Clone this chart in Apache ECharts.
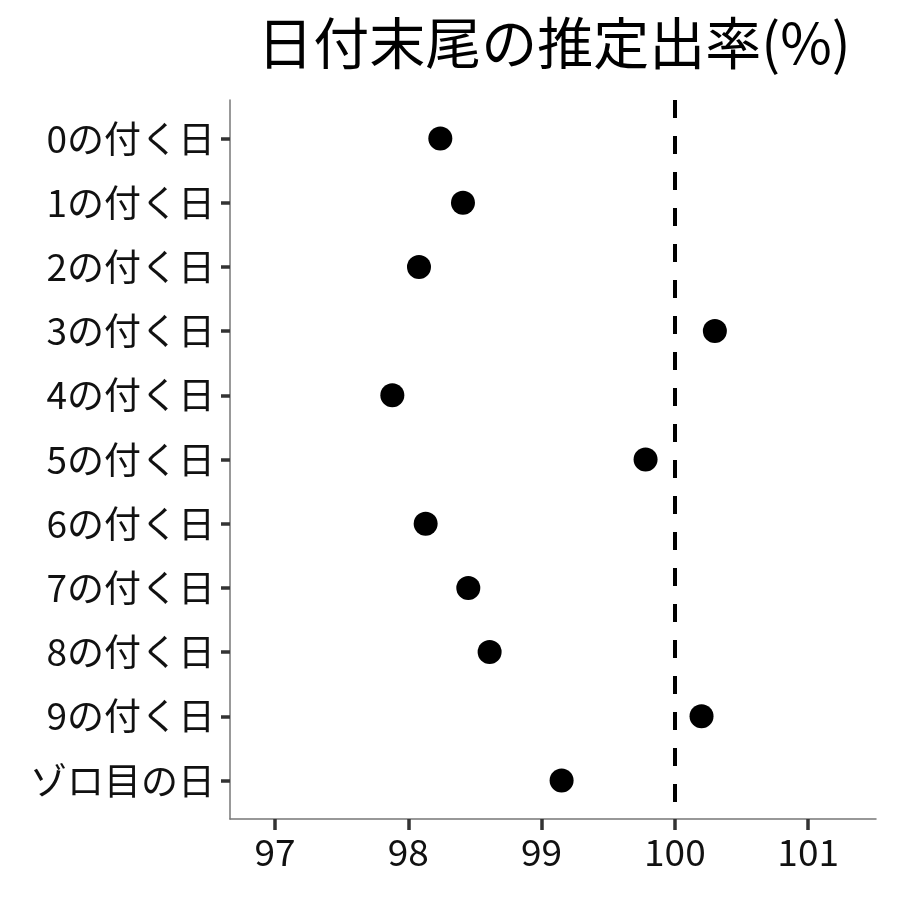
<!DOCTYPE html>
<html>
<head>
<meta charset="utf-8">
<script src="https://cdn.jsdelivr.net/npm/echarts@6/dist/echarts.min.js"></script>
<style>
  html, body { margin: 0; padding: 0; background: #fff; }
  #chart { width: 900px; height: 900px; }
</style>
</head>
<body>
<div id="chart"></div>
<script>
'use strict'
// カテゴリ (上から順)
const categories = ['0の付く日', '1の付く日', '2の付く日', '3の付く日', '4の付く日',
  '5の付く日', '6の付く日', '7の付く日', '8の付く日', '9の付く日', 'ゾロ目の日'];
// 推定出率(%)
const rates = [98.24, 98.41, 98.08, 100.30, 97.88, 99.78, 98.13, 98.45, 98.61, 100.20, 99.15];
const xTicks = [97, 98, 99, 100, 101];
const refLine = 100;

const font = '"Noto Sans CJK JP", "Noto Sans", sans-serif';

let option = {
  animation: false,
  title: {
    text: '日付末尾の推定出率(%)',
    left: 549,
    top: 10,
    textAlign: 'center',
    textStyle: {
      fontFamily: font,
      fontSize: 56,
      fontWeight: 'normal',
      color: '#000'
    }
  },
  grid: {
    left: 230,
    right: 24,
    top: 100,
    bottom: 81,
    containLabel: false
  },
  xAxis: {
    type: 'value',
    min: 96.662,
    max: 101.509,
    splitLine: { show: false },
    axisLine: { show: true, onZero: false, lineStyle: { color: '#777', width: 1.5 } },
    axisTick: { show: true, length: 11, customValues: xTicks, lineStyle: { color: '#333', width: 3.5 } },
    axisLabel: {
      customValues: xTicks,
      margin: 14,
      color: '#111',
      fontFamily: font,
      fontSize: 37
    }
  },
  yAxis: {
    type: 'value',
    inverse: true,
    min: -0.6,
    max: categories.length - 0.4,
    splitLine: { show: false },
    axisLine: { show: true, onZero: false, lineStyle: { color: '#777', width: 1.5 } },
    axisTick: { show: true, length: 9, customValues: categories.map((c, i) => i), lineStyle: { color: '#333', width: 3.5 } },
    axisLabel: {
      customValues: categories.map((c, i) => i),
      margin: 15,
      color: '#111',
      fontFamily: font,
      fontSize: 37,
      formatter: (v) => categories[Math.round(v)] || ''
    }
  },
  series: [{
    type: 'scatter',
    symbolSize: 24,
    itemStyle: { color: '#000', opacity: 1 },
    data: rates.map((r, i) => [r, i]),
    markLine: {
      silent: true,
      symbol: ['none', 'none'],
      label: { show: false },
      lineStyle: { color: '#000', width: 4, type: [18, 18], opacity: 1 },
      data: [{ xAxis: refLine }]
    },
    z: 3
  }]
};

let myChart = echarts.init(document.getElementById('chart'));
myChart.setOption(option);
</script>
</body>
</html>
